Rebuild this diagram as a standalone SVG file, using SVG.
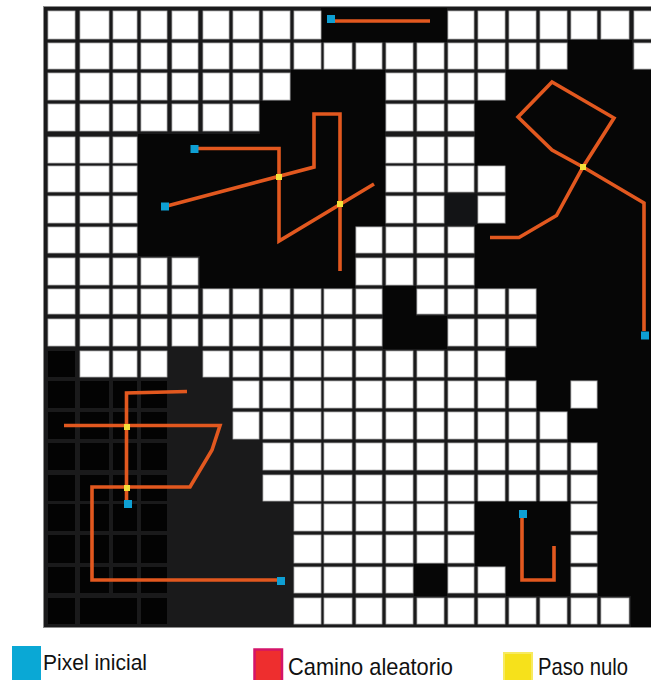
<svg xmlns="http://www.w3.org/2000/svg" width="651" height="680" viewBox="0 0 651 680">
<style>
.w rect{fill:#ffffff;stroke:#b4b4b4;stroke-width:0.8}
.b rect{fill:#060606}
.k rect{fill:#030303}
.p path{fill:none;stroke:#e2581f;stroke-width:3.6;stroke-linejoin:miter}
.s rect{fill:#0e9fd3}
.n rect{fill:#f4e13a}
.t{font-family:"Liberation Sans","Arial",sans-serif;fill:#111}
</style>
<rect width="651" height="680" fill="#ffffff"/>
<g id="grid">
<rect x="43.5" y="6.5" width="620" height="621" fill="#1a1a1b" stroke="#8c8c8c" stroke-width="1"/>
</g>
<g id="black-regions" class="b">
<rect x="321" y="8" width="126" height="34"/>
<rect x="568" y="40" width="64" height="32"/>
<rect x="291" y="70" width="94" height="33"/><rect x="506" y="70" width="158" height="33"/>
<rect x="260" y="101" width="125" height="33"/><rect x="475" y="101" width="189" height="33"/>
<rect x="138" y="134" width="247" height="32"/><rect x="475" y="134" width="189" height="32"/>
<rect x="138" y="163" width="247" height="32"/><rect x="506" y="163" width="158" height="32"/>
<rect x="138" y="193" width="247" height="33"/><rect x="506" y="193" width="158" height="33"/>
<rect x="138" y="224" width="217" height="32"/><rect x="475" y="224" width="189" height="32"/>
<rect x="200" y="255" width="155" height="33"/><rect x="475" y="255" width="189" height="33"/>
<rect x="383" y="286" width="33" height="31"/><rect x="537" y="286" width="127" height="31"/>
<rect x="383" y="316" width="64" height="33"/><rect x="537" y="316" width="127" height="33"/>
<rect x="506" y="348" width="158" height="32"/>
<rect x="537" y="378" width="33" height="33"/><rect x="598" y="378" width="66" height="33"/>
<rect x="568" y="409" width="96" height="33"/>
<rect x="598" y="440" width="66" height="33"/>
<rect x="598" y="472" width="66" height="32"/>
<rect x="475" y="501" width="95" height="33"/><rect x="598" y="501" width="66" height="33"/>
<rect x="475" y="532" width="95" height="34"/><rect x="598" y="532" width="66" height="34"/>
<rect x="414" y="564" width="33" height="32"/><rect x="506" y="564" width="64" height="32"/><rect x="598" y="564" width="66" height="32"/>
<rect x="631" y="595" width="33" height="32"/>
</g>
<g id="dark-cell">
<rect x="445" y="194" width="32" height="31" fill="#131416"/>
</g>
<g id="lower-left-cells" class="k">
<rect x="48" y="351" width="27" height="26"/>
<rect x="48" y="381" width="27" height="27"/><rect x="80" y="381" width="29" height="27"/><rect x="113" y="381" width="24" height="27"/><rect x="141" y="381" width="26" height="27"/>
<rect x="48" y="412" width="27" height="27"/><rect x="80" y="412" width="29" height="27"/><rect x="113" y="412" width="24" height="27"/><rect x="141" y="412" width="26" height="27"/>
<rect x="48" y="443" width="27" height="27"/><rect x="80" y="443" width="29" height="27"/><rect x="113" y="443" width="24" height="27"/><rect x="141" y="443" width="26" height="27"/>
<rect x="48" y="475" width="27" height="26"/><rect x="80" y="475" width="29" height="26"/><rect x="113" y="475" width="24" height="26"/><rect x="141" y="475" width="26" height="26"/>
<rect x="48" y="504" width="27" height="27"/><rect x="80" y="504" width="29" height="27"/><rect x="113" y="504" width="24" height="27"/><rect x="141" y="504" width="26" height="27"/>
<rect x="48" y="535" width="27" height="28"/><rect x="80" y="535" width="29" height="28"/><rect x="113" y="535" width="24" height="28"/><rect x="141" y="535" width="26" height="28"/>
<rect x="48" y="567" width="27" height="26"/><rect x="80" y="567" width="29" height="26"/><rect x="113" y="567" width="24" height="26"/><rect x="141" y="567" width="26" height="26"/>
<rect x="48" y="598" width="27" height="26"/><rect x="80" y="598" width="57" height="26"/><rect x="141" y="598" width="26" height="26"/>
</g>
<g id="white-cells" class="w">
<rect x="48" y="11" width="27" height="28"/><rect x="80" y="11" width="29" height="28"/><rect x="113" y="11" width="24" height="28"/><rect x="141" y="11" width="26" height="28"/><rect x="172" y="11" width="26" height="28"/><rect x="203" y="11" width="26" height="28"/><rect x="233" y="11" width="26" height="28"/><rect x="263" y="11" width="27" height="28"/><rect x="294" y="11" width="27" height="28"/>
<rect x="448" y="11" width="26" height="28"/><rect x="478" y="11" width="27" height="28"/><rect x="509" y="11" width="27" height="28"/><rect x="540" y="11" width="27" height="28"/><rect x="571" y="11" width="26" height="28"/><rect x="601" y="11" width="28" height="28"/><rect x="634" y="11" width="27" height="28"/>

<rect x="48" y="43" width="27" height="26"/><rect x="80" y="43" width="29" height="26"/><rect x="113" y="43" width="24" height="26"/><rect x="141" y="43" width="26" height="26"/><rect x="172" y="43" width="26" height="26"/><rect x="203" y="43" width="26" height="26"/><rect x="233" y="43" width="26" height="26"/><rect x="263" y="43" width="27" height="26"/><rect x="294" y="43" width="27" height="26"/><rect x="324" y="43" width="28" height="26"/><rect x="356" y="43" width="26" height="26"/><rect x="386" y="43" width="27" height="26"/><rect x="417" y="43" width="27" height="26"/><rect x="448" y="43" width="26" height="26"/><rect x="478" y="43" width="27" height="26"/><rect x="509" y="43" width="27" height="26"/><rect x="540" y="43" width="27" height="26"/><rect x="634" y="43" width="27" height="26"/>

<rect x="48" y="73" width="27" height="27"/><rect x="80" y="73" width="29" height="27"/><rect x="113" y="73" width="24" height="27"/><rect x="141" y="73" width="26" height="27"/><rect x="172" y="73" width="26" height="27"/><rect x="203" y="73" width="26" height="27"/><rect x="233" y="73" width="26" height="27"/><rect x="263" y="73" width="27" height="27"/>
<rect x="386" y="73" width="27" height="27"/><rect x="417" y="73" width="27" height="27"/><rect x="448" y="73" width="26" height="27"/><rect x="478" y="73" width="27" height="27"/>

<rect x="48" y="104" width="27" height="27"/><rect x="80" y="104" width="29" height="27"/><rect x="113" y="104" width="24" height="27"/><rect x="141" y="104" width="26" height="27"/><rect x="172" y="104" width="26" height="27"/><rect x="203" y="104" width="26" height="27"/><rect x="233" y="104" width="26" height="27"/>
<rect x="386" y="104" width="27" height="27"/><rect x="417" y="104" width="27" height="27"/><rect x="448" y="104" width="26" height="27"/>

<rect x="48" y="137" width="27" height="26"/><rect x="80" y="137" width="29" height="26"/><rect x="113" y="137" width="24" height="26"/>
<rect x="386" y="137" width="27" height="26"/><rect x="417" y="137" width="27" height="26"/><rect x="448" y="137" width="26" height="26"/>

<rect x="48" y="166" width="27" height="26"/><rect x="80" y="166" width="29" height="26"/><rect x="113" y="166" width="24" height="26"/>
<rect x="386" y="166" width="27" height="26"/><rect x="417" y="166" width="27" height="26"/><rect x="448" y="166" width="26" height="26"/><rect x="478" y="166" width="27" height="26"/>

<rect x="48" y="196" width="27" height="27"/><rect x="80" y="196" width="29" height="27"/><rect x="113" y="196" width="24" height="27"/>
<rect x="386" y="196" width="27" height="27"/><rect x="417" y="196" width="27" height="27"/><rect x="478" y="196" width="27" height="27"/>

<rect x="48" y="227" width="27" height="26"/><rect x="80" y="227" width="29" height="26"/><rect x="113" y="227" width="24" height="26"/>
<rect x="356" y="227" width="26" height="26"/><rect x="386" y="227" width="27" height="26"/><rect x="417" y="227" width="27" height="26"/><rect x="448" y="227" width="26" height="26"/>

<rect x="48" y="258" width="27" height="27"/><rect x="80" y="258" width="29" height="27"/><rect x="113" y="258" width="24" height="27"/><rect x="141" y="258" width="26" height="27"/><rect x="172" y="258" width="26" height="27"/>
<rect x="356" y="258" width="26" height="27"/><rect x="386" y="258" width="27" height="27"/><rect x="417" y="258" width="27" height="27"/><rect x="448" y="258" width="26" height="27"/>

<rect x="48" y="289" width="27" height="25"/><rect x="80" y="289" width="29" height="25"/><rect x="113" y="289" width="24" height="25"/><rect x="141" y="289" width="26" height="25"/><rect x="172" y="289" width="26" height="25"/><rect x="203" y="289" width="26" height="25"/><rect x="233" y="289" width="26" height="25"/><rect x="263" y="289" width="27" height="25"/><rect x="294" y="289" width="27" height="25"/><rect x="324" y="289" width="28" height="25"/><rect x="356" y="289" width="26" height="25"/>
<rect x="417" y="289" width="27" height="25"/><rect x="448" y="289" width="26" height="25"/><rect x="478" y="289" width="27" height="25"/><rect x="509" y="289" width="27" height="25"/>

<rect x="48" y="319" width="27" height="27"/><rect x="80" y="319" width="29" height="27"/><rect x="113" y="319" width="24" height="27"/><rect x="141" y="319" width="26" height="27"/><rect x="172" y="319" width="26" height="27"/><rect x="203" y="319" width="26" height="27"/><rect x="233" y="319" width="26" height="27"/><rect x="263" y="319" width="27" height="27"/><rect x="294" y="319" width="27" height="27"/><rect x="324" y="319" width="28" height="27"/><rect x="356" y="319" width="26" height="27"/>
<rect x="448" y="319" width="26" height="27"/><rect x="478" y="319" width="27" height="27"/><rect x="509" y="319" width="27" height="27"/>

<rect x="80" y="351" width="29" height="26"/><rect x="113" y="351" width="24" height="26"/><rect x="141" y="351" width="26" height="26"/>
<rect x="203" y="351" width="26" height="26"/><rect x="233" y="351" width="26" height="26"/><rect x="263" y="351" width="27" height="26"/><rect x="294" y="351" width="27" height="26"/><rect x="324" y="351" width="28" height="26"/><rect x="356" y="351" width="26" height="26"/><rect x="386" y="351" width="27" height="26"/><rect x="417" y="351" width="27" height="26"/><rect x="448" y="351" width="26" height="26"/><rect x="478" y="351" width="27" height="26"/>

<rect x="233" y="381" width="26" height="27"/><rect x="263" y="381" width="27" height="27"/><rect x="294" y="381" width="27" height="27"/><rect x="324" y="381" width="28" height="27"/><rect x="356" y="381" width="26" height="27"/><rect x="386" y="381" width="27" height="27"/><rect x="417" y="381" width="27" height="27"/><rect x="448" y="381" width="26" height="27"/><rect x="478" y="381" width="27" height="27"/><rect x="509" y="381" width="27" height="27"/><rect x="571" y="381" width="26" height="27"/>

<rect x="233" y="412" width="26" height="27"/><rect x="263" y="412" width="27" height="27"/><rect x="294" y="412" width="27" height="27"/><rect x="324" y="412" width="28" height="27"/><rect x="356" y="412" width="26" height="27"/><rect x="386" y="412" width="27" height="27"/><rect x="417" y="412" width="27" height="27"/><rect x="448" y="412" width="26" height="27"/><rect x="478" y="412" width="27" height="27"/><rect x="509" y="412" width="27" height="27"/><rect x="540" y="412" width="27" height="27"/>

<rect x="263" y="443" width="27" height="27"/><rect x="294" y="443" width="27" height="27"/><rect x="324" y="443" width="28" height="27"/><rect x="356" y="443" width="26" height="27"/><rect x="386" y="443" width="27" height="27"/><rect x="417" y="443" width="27" height="27"/><rect x="448" y="443" width="26" height="27"/><rect x="478" y="443" width="27" height="27"/><rect x="509" y="443" width="27" height="27"/><rect x="540" y="443" width="27" height="27"/><rect x="571" y="443" width="26" height="27"/>

<rect x="263" y="475" width="27" height="26"/><rect x="294" y="475" width="27" height="26"/><rect x="324" y="475" width="28" height="26"/><rect x="356" y="475" width="26" height="26"/><rect x="386" y="475" width="27" height="26"/><rect x="417" y="475" width="27" height="26"/><rect x="448" y="475" width="26" height="26"/><rect x="478" y="475" width="27" height="26"/><rect x="509" y="475" width="27" height="26"/><rect x="540" y="475" width="27" height="26"/><rect x="571" y="475" width="26" height="26"/>

<rect x="294" y="504" width="27" height="27"/><rect x="324" y="504" width="28" height="27"/><rect x="356" y="504" width="26" height="27"/><rect x="386" y="504" width="27" height="27"/><rect x="417" y="504" width="27" height="27"/><rect x="448" y="504" width="26" height="27"/><rect x="571" y="504" width="26" height="27"/>

<rect x="294" y="535" width="27" height="28"/><rect x="324" y="535" width="28" height="28"/><rect x="356" y="535" width="26" height="28"/><rect x="386" y="535" width="27" height="28"/><rect x="417" y="535" width="27" height="28"/><rect x="448" y="535" width="26" height="28"/><rect x="571" y="535" width="26" height="28"/>

<rect x="294" y="567" width="27" height="26"/><rect x="324" y="567" width="28" height="26"/><rect x="356" y="567" width="26" height="26"/><rect x="386" y="567" width="27" height="26"/><rect x="448" y="567" width="26" height="26"/><rect x="478" y="567" width="27" height="26"/><rect x="571" y="567" width="26" height="26"/>

<rect x="294" y="598" width="27" height="26"/><rect x="324" y="598" width="28" height="26"/><rect x="356" y="598" width="26" height="26"/><rect x="386" y="598" width="27" height="26"/><rect x="417" y="598" width="27" height="26"/><rect x="448" y="598" width="26" height="26"/><rect x="478" y="598" width="27" height="26"/><rect x="509" y="598" width="27" height="26"/><rect x="540" y="598" width="27" height="26"/><rect x="571" y="598" width="26" height="26"/><rect x="601" y="598" width="28" height="26"/>
</g>
<g id="connectors" class="p">
<g id="path-a"><path d="M334 21H430"/></g>
<g id="path-b1"><path d="M198 148.5H279V241L374 184"/></g>
<g id="path-b2"><path d="M165 206.5L314 167V114H340V271"/></g>
<g id="path-c"><path d="M490 237.5H519L556.5 215.5L583 167L614 118L552 82L518 117L552 150L583 167L644 203V331"/></g>
<g id="path-d1"><path d="M126.5 500V393L187 391.5"/></g>
<g id="path-d2"><path d="M64 425.5H220L212 450L190 487H92V580H277"/></g>
<g id="path-e"><path d="M522 517V580H554V546"/></g>
</g>
<g id="start-pixels" class="s">
<rect x="327" y="15" width="8" height="8"/>
<rect x="190.5" y="145" width="8" height="8"/>
<rect x="161" y="202.5" width="8" height="8"/>
<rect x="641" y="331.5" width="8" height="8"/>
<rect x="124" y="500" width="8" height="8"/>
<rect x="277" y="577" width="8" height="8"/>
<rect x="519" y="510" width="8" height="8"/>
</g>
<g id="null-steps" class="n">
<rect x="276" y="174" width="6" height="6"/>
<rect x="337" y="201" width="6" height="6"/>
<rect x="580" y="164" width="6" height="6"/>
<rect x="124" y="424" width="6" height="6"/>
<rect x="124" y="485" width="6" height="6"/>
</g>
<g id="legend">
<g id="legend-start">
<rect x="12" y="646" width="29" height="34" fill="#0aa8d5"/>
<text class="t" x="43" y="670" font-size="22.5" textLength="104" lengthAdjust="spacingAndGlyphs">Pixel inicial</text>
</g>
<g id="legend-path">
<rect x="254.5" y="649.5" width="27.5" height="32" fill="#ee2e2e" stroke="#d4146a" stroke-width="2.5"/>
<text class="t" x="288" y="674.5" font-size="24" textLength="165" lengthAdjust="spacingAndGlyphs">Camino aleatorio</text>
</g>
<g id="legend-null">
<rect x="504" y="653" width="28" height="28" fill="#f6e11b" stroke="#f7ea60" stroke-width="2"/>
<text class="t" x="538" y="674.5" font-size="24" textLength="90" lengthAdjust="spacingAndGlyphs">Paso nulo</text>
</g>
</g>
</svg>
